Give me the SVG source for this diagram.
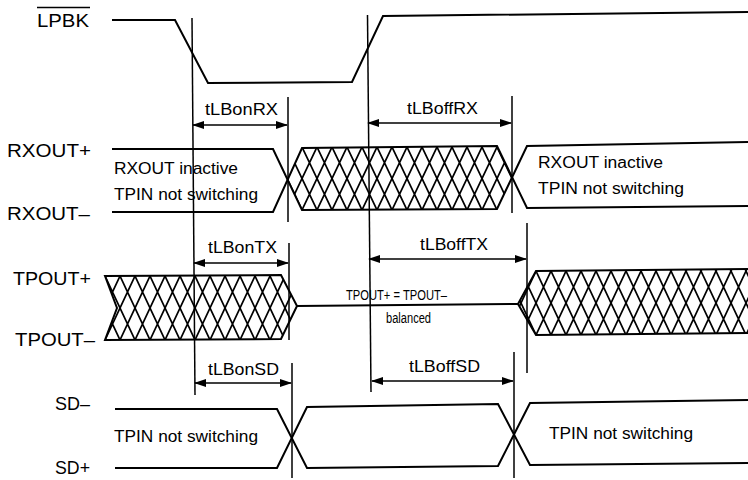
<svg xmlns="http://www.w3.org/2000/svg" width="748" height="480" viewBox="0 0 748 480">
<style>
  .sig{fill:none;stroke:#000;stroke-width:2;stroke-linejoin:miter}
  .ref{fill:none;stroke:#000;stroke-width:1.5}
  .dim{fill:none;stroke:#000;stroke-width:1.5;marker-start:url(#ah);marker-end:url(#ah)}
  .lab{font-family:"Liberation Sans",Arial,sans-serif;font-size:19px;fill:#000}
  .tim{font-family:"Liberation Sans",Arial,sans-serif;font-size:16.5px;fill:#000}
  .txt{font-family:"Liberation Sans",Arial,sans-serif;font-size:16px;fill:#000}
  .sm{font-family:"Liberation Sans",Arial,sans-serif;font-size:14px;fill:#000}
  .hl{fill:none;stroke:#000;stroke-width:1.7}
</style>
<defs>
  <marker id="ah" viewBox="0 0 12 8" refX="11" refY="4" markerWidth="12" markerHeight="8" markerUnits="userSpaceOnUse" orient="auto-start-reverse">
    <path d="M0,0 L12,4 L0,8 Z" fill="#000"/>
  </marker>
  <pattern id="hRX" patternUnits="userSpaceOnUse" x="302" y="147" width="15" height="63">
    <path class="hl" d="M-15,-31.5 L45,94.5 M-30,-31.5 L30,94.5 M30,-31.5 L-30,94.5 M45,-31.5 L-15,94.5"/>
  </pattern>
  <pattern id="hTL" patternUnits="userSpaceOnUse" x="105" y="276" width="15" height="64">
    <path class="hl" d="M-15,-32 L45,96 M-30,-32 L30,96 M30,-32 L-30,96 M45,-32 L-15,96"/>
  </pattern>
  <pattern id="hTR" patternUnits="userSpaceOnUse" x="536" y="271" width="15" height="64">
    <path class="hl" d="M-15,-32 L45,96 M-30,-32 L30,96 M30,-32 L-30,96 M45,-32 L-15,96"/>
  </pattern>
</defs>

<g id="lpbk">
  <text class="lab" x="37" y="27" textLength="52" lengthAdjust="spacingAndGlyphs">LPBK</text>
  <line class="ref" x1="37" y1="7.5" x2="90" y2="7.5"/>
  <path class="sig" d="M112,20 L175,20 L208,83 L352,82 L383,16 L748,12"/>
</g>

<g id="rxout">
  <text class="lab" x="7" y="157" textLength="84" lengthAdjust="spacingAndGlyphs">RXOUT+</text>
  <text class="lab" x="7" y="220" textLength="83" lengthAdjust="spacingAndGlyphs">RXOUT–</text>
  <path d="M287.5,180 L302,148 L497,146 L512,177.5 L497,209 L302,210 Z" fill="url(#hRX)"/>
  <path class="sig" d="M112,149 L273,149 L302,210 L497,209 L527,146 L748,142"/>
  <path class="sig" d="M112,212 L273,212 L302,148 L497,146 L527,208 L748,206"/>
  <text class="txt" x="114" y="174" textLength="124" lengthAdjust="spacingAndGlyphs">RXOUT inactive</text>
  <text class="txt" x="114" y="200" textLength="144" lengthAdjust="spacingAndGlyphs">TPIN not switching</text>
  <text class="txt" x="538" y="168" textLength="125" lengthAdjust="spacingAndGlyphs">RXOUT inactive</text>
  <text class="txt" x="538" y="194" textLength="146" lengthAdjust="spacingAndGlyphs">TPIN not switching</text>
</g>

<g id="tpout">
  <text class="lab" x="13" y="285" textLength="78" lengthAdjust="spacingAndGlyphs">TPOUT+</text>
  <text class="lab" x="15" y="346" textLength="80" lengthAdjust="spacingAndGlyphs">TPOUT–</text>
  <path d="M105,276 L117,308 L105,340 L281,339 L297,306 L281,275 Z" fill="url(#hTL)"/>
  <path class="sig" d="M105,276 L117,308 L105,340 L281,339 L297,306 L281,275 Z"/>
  <path class="sig" d="M297,306 L518,304"/>
  <path d="M748,269 L536,271 L518,304 L536,335 L748,333 Z" fill="url(#hTR)"/>
  <path class="sig" d="M748,269 L536,271 L518,304 L536,335 L748,333"/>
  <text class="sm" x="346" y="300" textLength="101" lengthAdjust="spacingAndGlyphs">TPOUT+ = TPOUT–</text>
  <text class="sm" x="386" y="323" textLength="45" lengthAdjust="spacingAndGlyphs">balanced</text>
</g>

<g id="sd">
  <text class="lab" x="55" y="410" textLength="35" lengthAdjust="spacingAndGlyphs">SD–</text>
  <text class="lab" x="55" y="474" textLength="35" lengthAdjust="spacingAndGlyphs">SD+</text>
  <path class="sig" d="M115,409 L277,409 L307,468 L498,466 L530,403 L748,400"/>
  <path class="sig" d="M115,468 L277,468 L307,407 L498,404 L530,465 L748,463"/>
  <text class="txt" x="114" y="442" textLength="144" lengthAdjust="spacingAndGlyphs">TPIN not switching</text>
  <text class="txt" x="549" y="439" textLength="144" lengthAdjust="spacingAndGlyphs">TPIN not switching</text>
</g>

<g id="connectors">
  <line class="ref" x1="192" y1="18" x2="195" y2="395"/>
  <line class="ref" x1="367.5" y1="15" x2="371" y2="392"/>
  <line class="ref" x1="288" y1="97" x2="288" y2="222"/>
  <line class="ref" x1="289" y1="243" x2="289" y2="340"/>
  <line class="ref" x1="292" y1="363" x2="292" y2="478"/>
  <line class="ref" x1="512" y1="96" x2="512" y2="213"/>
  <line class="ref" x1="527" y1="223" x2="527" y2="373"/>
  <line class="ref" x1="514" y1="352" x2="514" y2="478"/>
  <line class="dim" x1="193" y1="125" x2="287" y2="125"/>
  <line class="dim" x1="368" y1="123" x2="511" y2="123"/>
  <line class="dim" x1="194" y1="263" x2="288" y2="263"/>
  <line class="dim" x1="369" y1="259" x2="526" y2="259"/>
  <line class="dim" x1="195" y1="383" x2="291" y2="383"/>
  <line class="dim" x1="372" y1="381" x2="513" y2="381"/>
</g>

<g id="timing-labels">
  <text class="tim" x="205" y="115" textLength="73" lengthAdjust="spacingAndGlyphs">tLBonRX</text>
  <text class="tim" x="407" y="114" textLength="71" lengthAdjust="spacingAndGlyphs">tLBoffRX</text>
  <text class="tim" x="208" y="253" textLength="69" lengthAdjust="spacingAndGlyphs">tLBonTX</text>
  <text class="tim" x="420" y="250" textLength="68" lengthAdjust="spacingAndGlyphs">tLBoffTX</text>
  <text class="tim" x="208" y="375" textLength="71" lengthAdjust="spacingAndGlyphs">tLBonSD</text>
  <text class="tim" x="409" y="372" textLength="71" lengthAdjust="spacingAndGlyphs">tLBoffSD</text>
</g>
</svg>
